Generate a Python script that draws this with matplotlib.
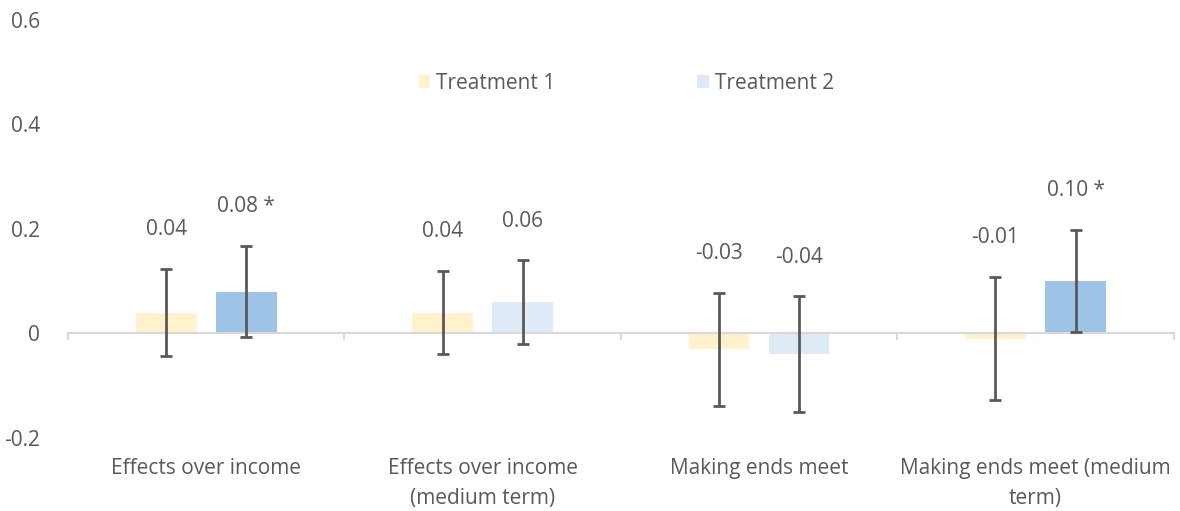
import matplotlib.pyplot as plt
import numpy as np
from matplotlib.patches import Patch

categories = ['Effects over income', 'Effects over income\n(medium term)',
              'Making ends meet', 'Making ends meet (medium\nterm)']
t1_est = [0.04, 0.04, -0.03, -0.01]
t1_err = [0.083, 0.080, 0.108, 0.118]
t1_sig = [False, False, False, False]
t2_est = [0.08, 0.06, -0.04, 0.10]
t2_err = [0.087, 0.080, 0.111, 0.098]
t2_sig = [True, False, False, True]
series_names = ['Treatment 1', 'Treatment 2']

YELLOW = '#FFF2CC'
BLUE_DARK = '#9DC3E6'
BLUE_LIGHT = '#DEEBF7'
TXT = '#595959'
FS = 15

plt.rcParams['font.family'] = ['Open Sans', 'DejaVu Sans']

fig = plt.figure(figsize=(11.8, 5.11), dpi=100)
ax = fig.add_axes([0.0576, 0.143, 0.937, 0.818])

x = np.arange(len(categories))
w = 0.22
off = 0.145

def draw_series(xpos, est, err, sig, base, strong):
    cols = [strong if s else base for s in sig]
    ax.bar(xpos, est, width=w, color=cols, zorder=2)
    ax.errorbar(xpos, est, yerr=err, fmt='none', ecolor=TXT, elinewidth=2,
                capsize=4, capthick=2, zorder=3)
    for xi, e, r, s in zip(xpos, est, err, sig):
        lab = '%.2f' % e + (' *' if s else '')
        ax.text(xi, e + r + 0.055, lab, ha='center', va='bottom',
                fontsize=FS, color=TXT)

draw_series(x - off, t1_est, t1_err, t1_sig, YELLOW, YELLOW)
draw_series(x + off, t2_est, t2_err, t2_sig, BLUE_LIGHT, BLUE_DARK)

ax.set_xlim(-0.5, 3.5)
ax.set_ylim(-0.2, 0.6)
ax.set_yticks([-0.2, 0, 0.2, 0.4, 0.6])
ax.set_yticklabels(['-0.2', '0', '0.2', '0.4', '0.6'])
ax.tick_params(axis='y', length=0, pad=20, labelsize=FS, labelcolor=TXT)

for s in ['top', 'right', 'left']:
    ax.spines[s].set_visible(False)
ax.spines['bottom'].set_position(('data', 0))
ax.spines['bottom'].set_color('#D9D9D9')
ax.spines['bottom'].set_linewidth(1.5)
ax.spines['bottom'].set_zorder(2.5)

ax.set_xticks(x)
ax.set_xticklabels(categories, linespacing=1.55)
ax.tick_params(axis='x', length=0, pad=90, labelsize=FS, labelcolor=TXT)
ax.set_xticks(np.arange(-0.5, 4.0, 1.0), minor=True)
ax.tick_params(axis='x', which='minor', length=5, width=1.5, color='#D9D9D9',
               direction='out')

handles = [Patch(facecolor=YELLOW), Patch(facecolor=BLUE_LIGHT)]
ax.legend(handles, series_names, loc='center', bbox_to_anchor=(0.505, 0.848),
          ncol=2, frameon=False, fontsize=FS, labelcolor=TXT,
          handlelength=0.55, handleheight=0.55, handletextpad=0.3,
          columnspacing=6.8)

fig.savefig('out.png', dpi=100)
